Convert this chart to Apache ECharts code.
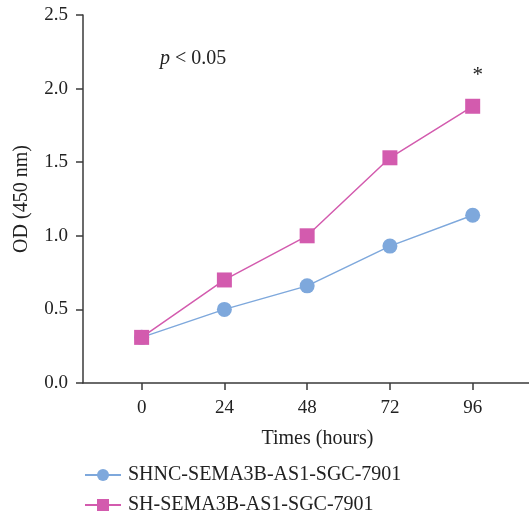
<!DOCTYPE html>
<html>
<head>
<meta charset="utf-8">
<script src="https://cdn.jsdelivr.net/npm/echarts@6/dist/echarts.min.js"></script>
<style>
  html, body { margin: 0; padding: 0; background: #fff; }
  #chart { width: 529px; height: 520px; }
</style>
</head>
<body>
<div id="chart"></div>
<script>
// Time points (hours) and OD readings at 450 nm
const hours = [0, 24, 48, 72, 96];
const xTickLabels = ['0', '24', '48', '72', '96'];
const controlName = 'SHNC-SEMA3B-AS1-SGC-7901';
const controlOD = [0.31, 0.50, 0.66, 0.93, 1.14];
const knockdownName = 'SH-SEMA3B-AS1-SGC-7901';
const knockdownOD = [0.31, 0.70, 1.00, 1.53, 1.88];
const yTicks = [0, 0.5, 1.0, 1.5, 2.0, 2.5];

const FONT = '"Liberation Serif", "DejaVu Serif", serif';
const FS = 19;      // tick labels
const FS_T = 20;    // axis names, legend, annotation
const TEXT = '#222';
const AXIS = '#3a3a3a';
const BLUE = '#7ea8dc';
const PINK = '#d35bae';

function pairs(xs, ys) {
  return xs.map((x, i) => [x, ys[i]]);
}

const knockData = pairs(hours, knockdownOD);
// significance mark above the final time point
knockData[knockData.length - 1] = {
  value: knockData[knockData.length - 1],
  label: {
    show: true, formatter: '*', position: 'top', distance: 13, offset: [5, 0],
    fontFamily: FONT, fontSize: 21, color: TEXT
  }
};

const chart = echarts.init(document.getElementById('chart'), null, { renderer: 'canvas' });
chart.setOption({
  animation: false,
  backgroundColor: '#fff',
  grid: {
    left: 83, width: 469, top: 15, height: 368,
    containLabel: false, outerBoundsMode: 'none'
  },
  xAxis: {
    type: 'value',
    min: -17, max: 119,
    name: 'Times (hours)',
    nameLocation: 'middle',
    nameGap: 46,
    nameTextStyle: { fontFamily: FONT, fontSize: FS_T, color: TEXT },
    splitLine: { show: false },
    axisLine: { onZero: false, lineStyle: { color: AXIS, width: 1.5 } },
    axisTick: { show: true, length: 7, lineStyle: { color: AXIS, width: 1.5 }, customValues: hours },
    axisLabel: {
      customValues: hours,
      formatter: v => xTickLabels[hours.indexOf(v)],
      fontFamily: FONT, fontSize: FS, color: TEXT, margin: 16
    }
  },
  yAxis: {
    type: 'value',
    min: 0, max: 2.5, interval: 0.5,
    name: 'OD (450 nm)',
    nameLocation: 'middle',
    nameGap: 51,
    nameTextStyle: { fontFamily: FONT, fontSize: FS_T, color: TEXT },
    splitLine: { show: false },
    axisLine: { show: true, onZero: false, lineStyle: { color: AXIS, width: 1.5 } },
    axisTick: { show: true, length: 7, lineStyle: { color: AXIS, width: 1.5 } },
    axisLabel: {
      formatter: v => yTicks.find(t => Math.abs(t - v) < 1e-9).toFixed(1),
      fontFamily: FONT, fontSize: FS, color: TEXT, margin: 15
    }
  },
  legend: {
    orient: 'vertical',
    left: 79, top: 460, height: 60,
    itemWidth: 36, itemHeight: 15,
    itemGap: 10,
    textStyle: { fontFamily: FONT, fontSize: FS_T, color: TEXT, padding: [0, 0, 0, 2] },
    data: [controlName, knockdownName]
  },
  graphic: [{
    type: 'text',
    left: 160, top: 49,
    style: {
      text: '{i|p} < 0.05',
      font: FS_T + 'px ' + FONT,
      fill: TEXT,
      rich: { i: { fontStyle: 'italic', fontFamily: FONT, fontSize: FS_T, fill: TEXT } }
    }
  }],
  series: [
    {
      name: controlName,
      type: 'line',
      data: pairs(hours, controlOD),
      symbol: 'circle',
      symbolSize: 15,
      lineStyle: { color: BLUE, width: 1.5 },
      itemStyle: { color: BLUE },
      z: 2
    },
    {
      name: knockdownName,
      type: 'line',
      data: knockData,
      symbol: 'rect',
      symbolSize: 15,
      lineStyle: { color: PINK, width: 1.5 },
      itemStyle: { color: PINK },
      z: 3
    }
  ]
});
</script>
</body>
</html>
